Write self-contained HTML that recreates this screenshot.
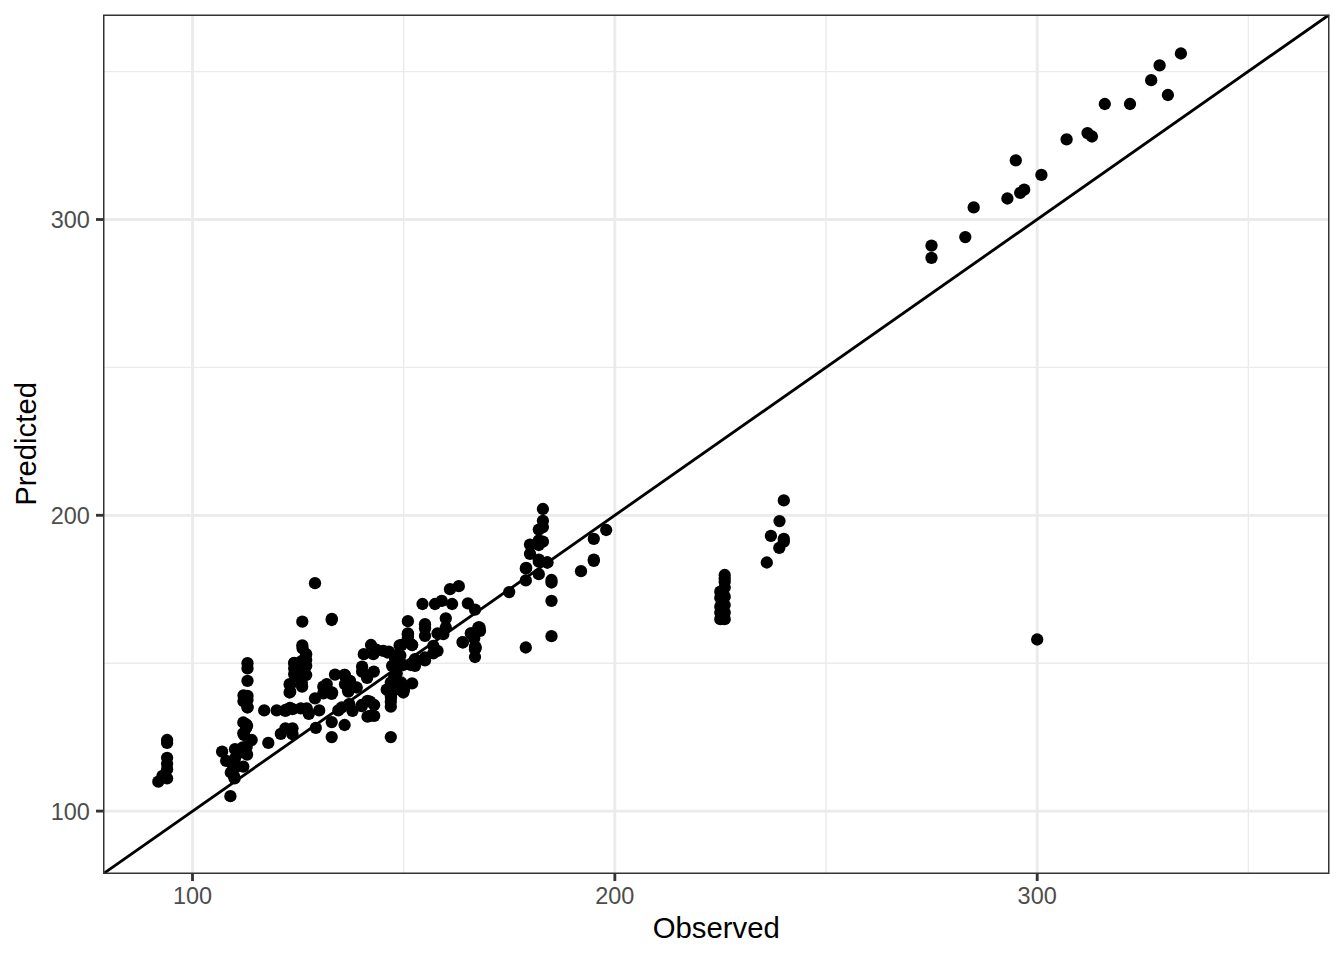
<!DOCTYPE html>
<html><head><meta charset="utf-8"><style>
html,body{margin:0;padding:0;background:#fff;width:1344px;height:960px;overflow:hidden}
svg{display:block;font-family:"Liberation Sans", sans-serif}
</style></head><body>
<svg width="1344" height="960" viewBox="0 0 1344 960">
<rect x="0" y="0" width="1344" height="960" fill="#FFFFFF"/>
<defs><clipPath id="pc"><rect x="103.3" y="14.67" width="1226.03" height="859.03"/></clipPath></defs>
<g clip-path="url(#pc)">
<line x1="403.67" y1="14.67" x2="403.67" y2="873.7" stroke="#EBEBEB" stroke-width="1.42"/>
<line x1="103.3" y1="663.20" x2="1329.33" y2="663.20" stroke="#EBEBEB" stroke-width="1.42"/>
<line x1="826.02" y1="14.67" x2="826.02" y2="873.7" stroke="#EBEBEB" stroke-width="1.42"/>
<line x1="103.3" y1="367.40" x2="1329.33" y2="367.40" stroke="#EBEBEB" stroke-width="1.42"/>
<line x1="1248.38" y1="14.67" x2="1248.38" y2="873.7" stroke="#EBEBEB" stroke-width="1.42"/>
<line x1="103.3" y1="71.60" x2="1329.33" y2="71.60" stroke="#EBEBEB" stroke-width="1.42"/>
<line x1="192.50" y1="14.67" x2="192.50" y2="873.7" stroke="#EBEBEB" stroke-width="2.85"/>
<line x1="103.3" y1="811.10" x2="1329.33" y2="811.10" stroke="#EBEBEB" stroke-width="2.85"/>
<line x1="614.85" y1="14.67" x2="614.85" y2="873.7" stroke="#EBEBEB" stroke-width="2.85"/>
<line x1="103.3" y1="515.30" x2="1329.33" y2="515.30" stroke="#EBEBEB" stroke-width="2.85"/>
<line x1="1037.20" y1="14.67" x2="1037.20" y2="873.7" stroke="#EBEBEB" stroke-width="2.85"/>
<line x1="103.3" y1="219.50" x2="1329.33" y2="219.50" stroke="#EBEBEB" stroke-width="2.85"/>
<circle cx="1180.9" cy="53.5" r="6.15"/>
<circle cx="1159.6" cy="65.4" r="6.15"/>
<circle cx="1151.2" cy="80.2" r="6.15"/>
<circle cx="1167.9" cy="95.0" r="6.15"/>
<circle cx="1104.8" cy="104.0" r="6.15"/>
<circle cx="1130.0" cy="104.0" r="6.15"/>
<circle cx="1066.6" cy="139.4" r="6.15"/>
<circle cx="1087.5" cy="133.1" r="6.15"/>
<circle cx="1091.9" cy="136.5" r="6.15"/>
<circle cx="1015.8" cy="160.3" r="6.15"/>
<circle cx="1041.4" cy="174.9" r="6.15"/>
<circle cx="1024.2" cy="189.7" r="6.15"/>
<circle cx="1020.2" cy="192.8" r="6.15"/>
<circle cx="1007.4" cy="198.5" r="6.15"/>
<circle cx="973.7" cy="207.4" r="6.15"/>
<circle cx="965.3" cy="237.1" r="6.15"/>
<circle cx="931.5" cy="245.6" r="6.15"/>
<circle cx="931.5" cy="257.8" r="6.15"/>
<circle cx="783.8" cy="500.4" r="6.15"/>
<circle cx="779.5" cy="521.1" r="6.15"/>
<circle cx="770.9" cy="535.9" r="6.15"/>
<circle cx="783.8" cy="538.9" r="6.15"/>
<circle cx="783.8" cy="541.6" r="6.15"/>
<circle cx="779.3" cy="547.9" r="6.15"/>
<circle cx="766.8" cy="562.5" r="6.15"/>
<circle cx="724.7" cy="575.0" r="6.15"/>
<circle cx="724.7" cy="587.5" r="6.15"/>
<circle cx="724.7" cy="596.7" r="6.15"/>
<circle cx="724.7" cy="605.0" r="6.15"/>
<circle cx="724.7" cy="612.5" r="6.15"/>
<circle cx="724.7" cy="619.2" r="6.15"/>
<circle cx="720.3" cy="591.7" r="6.15"/>
<circle cx="720.3" cy="597.9" r="6.15"/>
<circle cx="720.3" cy="606.7" r="6.15"/>
<circle cx="720.3" cy="612.5" r="6.15"/>
<circle cx="720.3" cy="619.2" r="6.15"/>
<circle cx="1037.2" cy="639.5" r="6.15"/>
<circle cx="167.1" cy="740.0" r="6.15"/>
<circle cx="167.1" cy="742.9" r="6.15"/>
<circle cx="167.1" cy="757.8" r="6.15"/>
<circle cx="167.1" cy="763.8" r="6.15"/>
<circle cx="167.1" cy="769.2" r="6.15"/>
<circle cx="167.1" cy="778.3" r="6.15"/>
<circle cx="162.5" cy="775.8" r="6.15"/>
<circle cx="158.3" cy="781.7" r="6.15"/>
<circle cx="247.5" cy="663.2" r="6.15"/>
<circle cx="247.5" cy="668.4" r="6.15"/>
<circle cx="247.5" cy="680.8" r="6.15"/>
<circle cx="247.5" cy="695.8" r="6.15"/>
<circle cx="243.5" cy="695.4" r="6.15"/>
<circle cx="243.5" cy="701.2" r="6.15"/>
<circle cx="247.5" cy="707.1" r="6.15"/>
<circle cx="264.2" cy="710.4" r="6.15"/>
<circle cx="276.7" cy="710.4" r="6.15"/>
<circle cx="285.4" cy="710.8" r="6.15"/>
<circle cx="290.0" cy="707.9" r="6.15"/>
<circle cx="294.3" cy="663.2" r="6.15"/>
<circle cx="290.2" cy="691.7" r="6.15"/>
<circle cx="290.2" cy="685.0" r="6.15"/>
<circle cx="245.0" cy="701.7" r="6.15"/>
<circle cx="247.5" cy="707.5" r="6.15"/>
<circle cx="285.4" cy="710.0" r="6.15"/>
<circle cx="243.3" cy="722.5" r="6.15"/>
<circle cx="247.1" cy="725.8" r="6.15"/>
<circle cx="243.3" cy="733.3" r="6.15"/>
<circle cx="251.7" cy="740.0" r="6.15"/>
<circle cx="246.7" cy="746.7" r="6.15"/>
<circle cx="247.1" cy="754.6" r="6.15"/>
<circle cx="268.3" cy="742.9" r="6.15"/>
<circle cx="280.8" cy="733.8" r="6.15"/>
<circle cx="285.4" cy="728.3" r="6.15"/>
<circle cx="222.1" cy="751.7" r="6.15"/>
<circle cx="235.0" cy="749.2" r="6.15"/>
<circle cx="226.2" cy="760.8" r="6.15"/>
<circle cx="235.0" cy="758.3" r="6.15"/>
<circle cx="243.3" cy="766.7" r="6.15"/>
<circle cx="230.8" cy="772.5" r="6.15"/>
<circle cx="234.2" cy="776.7" r="6.15"/>
<circle cx="230.4" cy="796.2" r="6.15"/>
<circle cx="234.6" cy="778.3" r="6.15"/>
<circle cx="302.3" cy="621.7" r="6.15"/>
<circle cx="331.7" cy="620.0" r="6.15"/>
<circle cx="302.3" cy="645.4" r="6.15"/>
<circle cx="306.2" cy="654.2" r="6.15"/>
<circle cx="306.2" cy="660.0" r="6.15"/>
<circle cx="306.2" cy="665.8" r="6.15"/>
<circle cx="306.2" cy="675.0" r="6.15"/>
<circle cx="294.2" cy="662.9" r="6.15"/>
<circle cx="294.2" cy="668.3" r="6.15"/>
<circle cx="294.2" cy="674.2" r="6.15"/>
<circle cx="302.0" cy="660.8" r="6.15"/>
<circle cx="302.1" cy="686.7" r="6.15"/>
<circle cx="289.6" cy="684.2" r="6.15"/>
<circle cx="289.6" cy="692.5" r="6.15"/>
<circle cx="335.0" cy="674.6" r="6.15"/>
<circle cx="344.2" cy="675.0" r="6.15"/>
<circle cx="345.0" cy="684.2" r="6.15"/>
<circle cx="347.9" cy="690.0" r="6.15"/>
<circle cx="326.7" cy="684.2" r="6.15"/>
<circle cx="323.3" cy="686.7" r="6.15"/>
<circle cx="332.1" cy="692.5" r="6.15"/>
<circle cx="324.2" cy="692.5" r="6.15"/>
<circle cx="315.0" cy="698.3" r="6.15"/>
<circle cx="315.0" cy="583.2" r="6.15"/>
<circle cx="331.8" cy="618.8" r="6.15"/>
<circle cx="371.0" cy="645.0" r="6.15"/>
<circle cx="363.8" cy="654.2" r="6.15"/>
<circle cx="373.3" cy="654.2" r="6.15"/>
<circle cx="383.3" cy="650.8" r="6.15"/>
<circle cx="387.5" cy="652.5" r="6.15"/>
<circle cx="399.6" cy="645.4" r="6.15"/>
<circle cx="407.9" cy="634.2" r="6.15"/>
<circle cx="412.1" cy="645.0" r="6.15"/>
<circle cx="398.3" cy="654.2" r="6.15"/>
<circle cx="362.1" cy="666.7" r="6.15"/>
<circle cx="362.1" cy="671.7" r="6.15"/>
<circle cx="373.8" cy="671.7" r="6.15"/>
<circle cx="367.1" cy="677.9" r="6.15"/>
<circle cx="392.1" cy="665.8" r="6.15"/>
<circle cx="398.3" cy="663.3" r="6.15"/>
<circle cx="410.8" cy="665.0" r="6.15"/>
<circle cx="415.0" cy="659.2" r="6.15"/>
<circle cx="396.7" cy="673.3" r="6.15"/>
<circle cx="345.0" cy="675.0" r="6.15"/>
<circle cx="350.0" cy="680.8" r="6.15"/>
<circle cx="356.7" cy="687.5" r="6.15"/>
<circle cx="348.8" cy="689.2" r="6.15"/>
<circle cx="390.8" cy="682.5" r="6.15"/>
<circle cx="386.7" cy="689.6" r="6.15"/>
<circle cx="397.5" cy="686.7" r="6.15"/>
<circle cx="403.3" cy="692.5" r="6.15"/>
<circle cx="412.1" cy="683.3" r="6.15"/>
<circle cx="390.8" cy="701.7" r="6.15"/>
<circle cx="390.8" cy="706.7" r="6.15"/>
<circle cx="349.2" cy="704.2" r="6.15"/>
<circle cx="361.7" cy="705.0" r="6.15"/>
<circle cx="370.0" cy="701.7" r="6.15"/>
<circle cx="374.2" cy="705.0" r="6.15"/>
<circle cx="341.7" cy="707.5" r="6.15"/>
<circle cx="403.3" cy="665.0" r="6.15"/>
<circle cx="415.0" cy="665.8" r="6.15"/>
<circle cx="394.2" cy="676.7" r="6.15"/>
<circle cx="400.0" cy="683.3" r="6.15"/>
<circle cx="407.9" cy="637.5" r="6.15"/>
<circle cx="450.0" cy="589.2" r="6.15"/>
<circle cx="458.8" cy="586.2" r="6.15"/>
<circle cx="422.5" cy="604.0" r="6.15"/>
<circle cx="435.0" cy="604.0" r="6.15"/>
<circle cx="441.7" cy="600.8" r="6.15"/>
<circle cx="452.1" cy="604.0" r="6.15"/>
<circle cx="467.9" cy="603.3" r="6.15"/>
<circle cx="475.0" cy="609.6" r="6.15"/>
<circle cx="407.9" cy="621.2" r="6.15"/>
<circle cx="407.9" cy="633.3" r="6.15"/>
<circle cx="407.9" cy="635.0" r="6.15"/>
<circle cx="412.1" cy="645.0" r="6.15"/>
<circle cx="401.7" cy="645.0" r="6.15"/>
<circle cx="425.0" cy="624.2" r="6.15"/>
<circle cx="425.0" cy="628.3" r="6.15"/>
<circle cx="425.0" cy="635.8" r="6.15"/>
<circle cx="445.8" cy="618.3" r="6.15"/>
<circle cx="445.8" cy="627.5" r="6.15"/>
<circle cx="437.5" cy="633.3" r="6.15"/>
<circle cx="443.3" cy="634.2" r="6.15"/>
<circle cx="433.3" cy="645.8" r="6.15"/>
<circle cx="437.5" cy="650.8" r="6.15"/>
<circle cx="425.0" cy="657.5" r="6.15"/>
<circle cx="462.9" cy="642.5" r="6.15"/>
<circle cx="470.8" cy="633.3" r="6.15"/>
<circle cx="478.3" cy="627.5" r="6.15"/>
<circle cx="475.0" cy="646.7" r="6.15"/>
<circle cx="475.0" cy="657.0" r="6.15"/>
<circle cx="525.8" cy="568.5" r="6.15"/>
<circle cx="525.8" cy="580.4" r="6.15"/>
<circle cx="509.2" cy="592.1" r="6.15"/>
<circle cx="479.6" cy="627.5" r="6.15"/>
<circle cx="480.0" cy="630.8" r="6.15"/>
<circle cx="471.2" cy="633.3" r="6.15"/>
<circle cx="474.2" cy="638.3" r="6.15"/>
<circle cx="462.5" cy="642.1" r="6.15"/>
<circle cx="475.8" cy="647.5" r="6.15"/>
<circle cx="525.8" cy="647.5" r="6.15"/>
<circle cx="542.9" cy="509.0" r="6.15"/>
<circle cx="542.9" cy="520.8" r="6.15"/>
<circle cx="542.9" cy="527.1" r="6.15"/>
<circle cx="538.8" cy="529.6" r="6.15"/>
<circle cx="538.8" cy="540.4" r="6.15"/>
<circle cx="542.9" cy="541.7" r="6.15"/>
<circle cx="538.8" cy="545.0" r="6.15"/>
<circle cx="530.0" cy="544.6" r="6.15"/>
<circle cx="530.0" cy="553.8" r="6.15"/>
<circle cx="538.8" cy="559.6" r="6.15"/>
<circle cx="547.1" cy="562.5" r="6.15"/>
<circle cx="526.2" cy="567.9" r="6.15"/>
<circle cx="538.8" cy="561.7" r="6.15"/>
<circle cx="547.5" cy="562.5" r="6.15"/>
<circle cx="538.8" cy="574.2" r="6.15"/>
<circle cx="551.5" cy="580.0" r="6.15"/>
<circle cx="551.5" cy="582.5" r="6.15"/>
<circle cx="551.5" cy="600.8" r="6.15"/>
<circle cx="551.5" cy="636.2" r="6.15"/>
<circle cx="581.0" cy="571.2" r="6.15"/>
<circle cx="593.8" cy="560.8" r="6.15"/>
<circle cx="606.2" cy="530.0" r="6.15"/>
<circle cx="593.8" cy="538.8" r="6.15"/>
<circle cx="593.8" cy="559.6" r="6.15"/>
<circle cx="323.3" cy="693.3" r="6.15"/>
<circle cx="331.7" cy="693.8" r="6.15"/>
<circle cx="348.3" cy="691.7" r="6.15"/>
<circle cx="292.5" cy="709.2" r="6.15"/>
<circle cx="300.8" cy="708.3" r="6.15"/>
<circle cx="306.7" cy="708.3" r="6.15"/>
<circle cx="308.8" cy="713.8" r="6.15"/>
<circle cx="319.2" cy="710.4" r="6.15"/>
<circle cx="315.8" cy="727.9" r="6.15"/>
<circle cx="292.5" cy="728.3" r="6.15"/>
<circle cx="292.5" cy="734.2" r="6.15"/>
<circle cx="338.3" cy="710.4" r="6.15"/>
<circle cx="349.2" cy="704.6" r="6.15"/>
<circle cx="352.5" cy="710.8" r="6.15"/>
<circle cx="361.7" cy="706.2" r="6.15"/>
<circle cx="367.5" cy="700.8" r="6.15"/>
<circle cx="367.5" cy="716.7" r="6.15"/>
<circle cx="331.7" cy="722.1" r="6.15"/>
<circle cx="344.6" cy="725.0" r="6.15"/>
<circle cx="331.7" cy="737.1" r="6.15"/>
<circle cx="370.0" cy="715.8" r="6.15"/>
<circle cx="374.2" cy="715.8" r="6.15"/>
<circle cx="390.8" cy="737.1" r="6.15"/>
<circle cx="475.0" cy="649.2" r="6.15"/>
<circle cx="433.3" cy="653.3" r="6.15"/>
<circle cx="425.0" cy="660.4" r="6.15"/>
<circle cx="299.1" cy="666.5" r="6.15"/>
<circle cx="299.1" cy="677.2" r="6.15"/>
<circle cx="301.8" cy="682.5" r="6.15"/>
<circle cx="235.4" cy="767.4" r="6.15"/>
<circle cx="238.0" cy="753.3" r="6.15"/>
<circle cx="232.0" cy="764.0" r="6.15"/>
<circle cx="376.2" cy="649.6" r="6.15"/>
<circle cx="388.8" cy="651.7" r="6.15"/>
<circle cx="390.8" cy="695.4" r="6.15"/>
<circle cx="397.1" cy="689.2" r="6.15"/>
<circle cx="391.0" cy="697.5" r="6.15"/>
<circle cx="724.7" cy="578.5" r="6.15"/>
<circle cx="724.7" cy="582.0" r="6.15"/>
<circle cx="400.3" cy="655.4" r="6.15"/>
<circle cx="394.9" cy="658.0" r="6.15"/>
<circle cx="247.5" cy="700.0" r="6.15"/>
<circle cx="246.2" cy="727.8" r="6.15"/>
<circle cx="246.2" cy="724.4" r="6.15"/>
<circle cx="244.0" cy="735.0" r="6.15"/>
<circle cx="242.8" cy="747.3" r="6.15"/>
<circle cx="302.6" cy="648.5" r="6.15"/>
<circle cx="404.0" cy="690.0" r="6.15"/>
<circle cx="401.2" cy="682.5" r="6.15"/>
<line x1="103.3" y1="873.7" x2="1329.33" y2="14.67" stroke="#000" stroke-width="2.85"/>
</g>
<path d="M103.75 14.5V874.0M1328.75 14.5V874.0M103.0 15.25H1329.5M103.0 873.25H1329.5" fill="none" stroke="#333333" stroke-width="1.5"/>
<line x1="192.50" y1="873.7" x2="192.50" y2="881.03" stroke="#333333" stroke-width="2.85"/>
<line x1="103.3" y1="811.10" x2="95.97" y2="811.10" stroke="#333333" stroke-width="2.85"/>
<line x1="614.85" y1="873.7" x2="614.85" y2="881.03" stroke="#333333" stroke-width="2.85"/>
<line x1="103.3" y1="515.30" x2="95.97" y2="515.30" stroke="#333333" stroke-width="2.85"/>
<line x1="1037.20" y1="873.7" x2="1037.20" y2="881.03" stroke="#333333" stroke-width="2.85"/>
<line x1="103.3" y1="219.50" x2="95.97" y2="219.50" stroke="#333333" stroke-width="2.85"/>
<text x="192.50" y="904" font-size="23.47" fill="#4D4D4D" text-anchor="middle">100</text>
<text x="89.8" y="819.60" font-size="23.47" fill="#4D4D4D" text-anchor="end">100</text>
<text x="614.85" y="904" font-size="23.47" fill="#4D4D4D" text-anchor="middle">200</text>
<text x="89.8" y="523.80" font-size="23.47" fill="#4D4D4D" text-anchor="end">200</text>
<text x="1037.20" y="904" font-size="23.47" fill="#4D4D4D" text-anchor="middle">300</text>
<text x="89.8" y="228.00" font-size="23.47" fill="#4D4D4D" text-anchor="end">300</text>
<text x="716.3" y="938.2" font-size="29.33" fill="#000" text-anchor="middle">Observed</text>
<text x="0" y="0" font-size="29.33" fill="#000" text-anchor="middle" transform="translate(35.8,443.9) rotate(-90)">Predicted</text>
</svg>
</body></html>
